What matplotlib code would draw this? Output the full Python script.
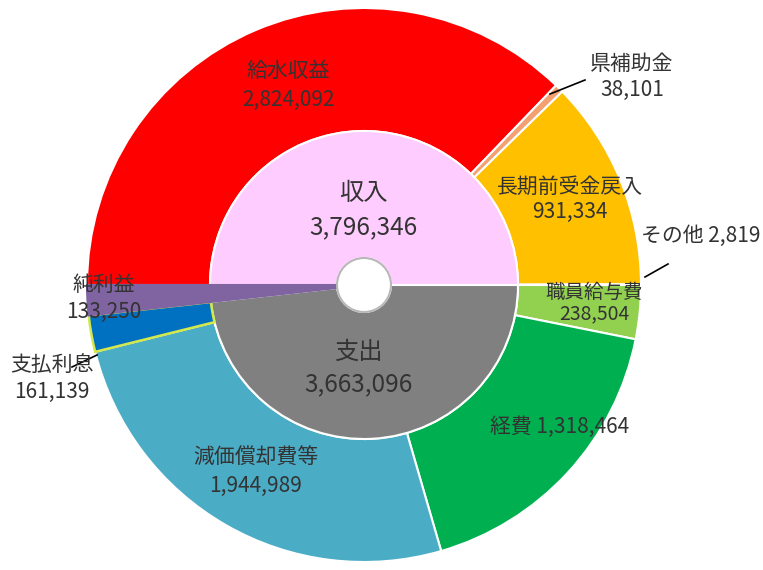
import matplotlib
matplotlib.use("Agg")
import matplotlib.pyplot as plt

plt.rcParams['font.family'] = ['Noto Sans CJK JP', 'DejaVu Sans']

# Outer ring (clockwise from 9 o'clock): income items then expense items
outer_labels = ["給水収益", "県補助金", "長期前受金戻入", "その他",
                "職員給与費", "経費", "減価償却費等", "支払利息", "純利益"]
outer_values = [2824092, 38101, 931334, 2819,
                238504, 1318464, 1944989, 161139, 133250]
outer_colors = ["#FF0000", "#F4A070", "#FFC000", "#E8E0C0",
                "#92D050", "#00B050", "#4BACC6", "#0070C0", "#8064A2"]

# Inner ring
inner_labels = ["収入", "支出", "純利益"]
inner_values = [3796346, 3663096, 133250]
inner_colors = ["#FFCCFF", "#808080", "#8064A2"]

W, H = 763, 570
fig = plt.figure(figsize=(W / 100, H / 100), dpi=100)
ax = fig.add_axes([0, 0, 1, 1])

cx, cy = 364, H - 285
R_out, R_mid, R_hole = 277, 154, 27

wo, _ = ax.pie(outer_values, colors=outer_colors, startangle=180, counterclock=False,
               radius=R_out, center=(cx, cy),
               wedgeprops=dict(width=R_out - R_mid, edgecolor="white", linewidth=1.5))
# 支払利息 wedge has a yellow outline
wo[7].set_edgecolor("#D4E84A")
wo[7].set_linewidth(1.8)
wo[7].set_zorder(3)

wi, _ = ax.pie(inner_values, colors=inner_colors, startangle=180, counterclock=False,
               radius=R_mid, center=(cx, cy),
               wedgeprops=dict(width=R_mid - R_hole, edgecolor="white", linewidth=1.5))
wi[2].set_edgecolor("#8064A2")
wo[8].set_edgecolor("#8064A2")
wo[8].set_zorder(4)
wi[2].set_zorder(4)

# center hole with shadow ring
hole = plt.Circle((cx, cy), R_hole, facecolor="white", edgecolor="#B8B8B8", linewidth=1.5, zorder=5)
ax.add_patch(hole)

ax.set_xlim(0, W)
ax.set_ylim(0, H)
ax.set_aspect("equal")
ax.axis("off")

tc = "#333333"
fs = 15
fsb = 17.5


def T(x, y, s, size=fs, ha="center", color=tc):
    ax.text(x, H - y, s, ha=ha, va="center", fontsize=size, color=color, zorder=10)


def fmt(v):
    return f"{v:,}"


T(288, 71, outer_labels[0])
T(288, 100, fmt(outer_values[0]))
T(632, 64, outer_labels[1])
T(632, 90, fmt(outer_values[1]))
T(570, 187, outer_labels[2])
T(570, 212, fmt(outer_values[2]))
T(641, 236, f"{outer_labels[3]} {fmt(outer_values[3])}", ha="left")
T(594, 292, outer_labels[4], size=14)
T(594, 314, fmt(outer_values[4]), size=14)
T(560, 427, f"{outer_labels[5]} {fmt(outer_values[5])}")
T(256, 458, outer_labels[6])
T(256, 486, fmt(outer_values[6]))
T(52, 365, outer_labels[7])
T(52, 392, fmt(outer_values[7]))
T(104, 285, outer_labels[8])
T(104, 312, fmt(outer_values[8]))

T(363, 193, inner_labels[0], size=fsb)
T(363, 227, fmt(inner_values[0]), size=fsb)
T(358, 352, inner_labels[1], size=fsb)
T(358, 384, fmt(inner_values[1]), size=fsb)

# leader lines
for (x1, y1, x2, y2) in [(550, 94, 585, 80), (645, 277, 668, 264), (72, 367, 97, 355)]:
    ax.plot([x1, x2], [H - y1, H - y2], color="black", linewidth=1.2, zorder=9)

fig.savefig("out.png", dpi=100)
